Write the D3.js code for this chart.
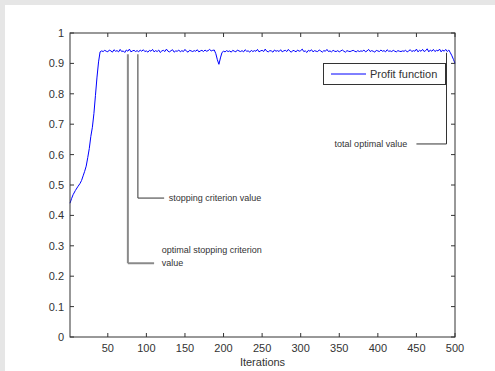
<!DOCTYPE html>
<html>
<head>
<meta charset="utf-8">
<script src="https://cdn.jsdelivr.net/npm/d3@7/dist/d3.min.js"></script>
<style>
  body { margin: 0; background: #e6e6e6; }
  svg { display: block; }
  text { font-family: "Liberation Sans", Arial, sans-serif; fill: #333; }
</style>
</head>
<body>
<svg id="viz" width="495" height="371"></svg>
<script>
// rise phase (iteration, value)
const riseIter = [1, 3, 5, 8, 11, 14, 16, 18, 20, 22, 24, 26, 28, 30, 32, 34, 36, 38, 40];
const riseValue = [0.44, 0.455, 0.468, 0.482, 0.494, 0.505, 0.515, 0.53, 0.545, 0.562, 0.59, 0.62, 0.66, 0.69, 0.735, 0.795, 0.855, 0.905, 0.938];

// plateau sampled every 2 iterations from 42 to 498
const plateauStart = 42;
const plateauStep = 2;
const plateauValue = [
  0.941,0.939,0.943,0.940,0.938,0.944,0.941,0.937,0.945,0.940,
  0.942,0.938,0.946,0.939,0.941,0.936,0.944,0.940,0.947,0.938,
  0.941,0.943,0.939,0.942,0.938,0.944,0.940,0.945,0.939,0.941,
  0.937,0.943,0.940,0.946,0.938,0.942,0.939,0.944,0.936,0.941,
  0.943,0.939,0.947,0.940,0.938,0.942,0.945,0.937,0.941,0.940,
  0.944,0.938,0.942,0.939,0.946,0.940,0.937,0.943,0.941,0.939,
  0.942,0.940,0.945,0.938,0.941,0.943,0.939,0.944,0.940,0.942,
  0.946,0.941,0.943,0.944,0.932,0.912,0.897,0.918,0.936,0.940,
  0.938,0.942,0.939,0.941,0.937,0.943,0.940,0.938,0.944,0.941,
  0.939,0.942,0.938,0.945,0.940,0.941,0.937,0.943,0.939,0.942,
  0.940,0.946,0.938,0.941,0.943,0.939,0.947,0.940,0.938,0.942,
  0.941,0.937,0.944,0.940,0.942,0.939,0.945,0.938,0.941,0.943,
  0.939,0.946,0.940,0.937,0.943,0.941,0.938,0.944,0.940,0.942,
  0.947,0.939,0.941,0.936,0.943,0.940,0.945,0.938,0.942,0.940,
  0.939,0.944,0.941,0.937,0.942,0.940,0.946,0.939,0.941,0.938,
  0.943,0.940,0.939,0.942,0.938,0.941,0.944,0.940,0.937,0.942,
  0.940,0.939,0.941,0.943,0.940,0.938,0.942,0.939,0.941,0.940,
  0.944,0.938,0.941,0.946,0.939,0.942,0.940,0.937,0.943,0.941,
  0.939,0.944,0.940,0.942,0.938,0.945,0.940,0.941,0.939,0.943,
  0.940,0.938,0.942,0.940,0.939,0.941,0.940,0.943,0.938,0.941,
  0.945,0.939,0.942,0.940,0.947,0.938,0.943,0.940,0.946,0.939,
  0.942,0.948,0.938,0.944,0.940,0.946,0.939,0.943,0.941,0.947,
  0.938,0.944,0.940,0.946,0.939,0.944,0.935,0.925,0.913
];
const tailIter = [500];
const tailValue = [0.90];

const xTicks = [50, 100, 150, 200, 250, 300, 350, 400, 450, 500];
const yTicks = [0, 0.1, 0.2, 0.3, 0.4, 0.5, 0.6, 0.7, 0.8, 0.9, 1];
const seriesName = "Profit function";
const xLabel = "Iterations";

// annotations: vertical at iter from top value to bottom value, then horizontal to endIter
const annotations = [
  { iter: 76, top: 0.93, bottom: 0.243, endIter: 110, lines: ["optimal stopping criterion", "value"], textIter: 120, color: "#8a8a8a", width: 2 },
  { iter: 89, top: 0.93, bottom: 0.457, endIter: 123, lines: ["stopping criterion value"], textIter: 129, color: "#333", width: 1 },
  { iter: 489, top: 0.935, bottom: 0.635, endIter: 450, lines: ["total optimal value"], textIter: 438, color: "#333", width: 1 }
];

const data = [];
riseIter.forEach((it, i) => data.push({ it, v: riseValue[i] }));
plateauValue.forEach((v, i) => data.push({ it: plateauStart + i * plateauStep, v }));
tailIter.forEach((it, i) => data.push({ it, v: tailValue[i] }));

const svg = d3.select("#viz");
svg.append("rect").attr("x", 5).attr("y", 5).attr("width", 490).attr("height", 366).attr("fill", "#fff");

const margin = { left: 70, right: 455, top: 33, bottom: 337 };
const x = d3.scaleLinear().domain([1, 500]).range([margin.left, margin.right]);
const y = d3.scaleLinear().domain([0, 1]).range([margin.bottom, margin.top]);

const axisColor = "#333";
const g = svg.append("g");

// inward ticks, all four sides
xTicks.forEach(t => {
  g.append("line").attr("x1", x(t)).attr("x2", x(t)).attr("y1", margin.bottom).attr("y2", margin.bottom - 4).attr("stroke", axisColor);
  g.append("line").attr("x1", x(t)).attr("x2", x(t)).attr("y1", margin.top).attr("y2", margin.top + 4).attr("stroke", axisColor);
  g.append("text").attr("x", x(t)).attr("y", margin.bottom + 15).attr("text-anchor", "middle")
    .attr("font-size", 11).text(t);
});
yTicks.forEach(t => {
  g.append("line").attr("x1", margin.left).attr("x2", margin.left + 4).attr("y1", y(t)).attr("y2", y(t)).attr("stroke", axisColor);
  g.append("line").attr("x1", margin.right).attr("x2", margin.right - 4).attr("y1", y(t)).attr("y2", y(t)).attr("stroke", axisColor);
  g.append("text").attr("x", margin.left - 6).attr("y", y(t) + 4).attr("text-anchor", "end")
    .attr("font-size", 11).text(t);
});

g.append("text").attr("x", (margin.left + margin.right) / 2).attr("y", 366).attr("text-anchor", "middle")
  .attr("font-size", 11).text(xLabel);

// the series
const line = d3.line().x(d => x(d.it)).y(d => y(d.v));
g.append("path").datum(data).attr("d", line).attr("fill", "none").attr("stroke", "#0000ff").attr("stroke-width", 1);

// annotations
annotations.forEach(a => {
  g.append("path")
    .attr("d", `M${x(a.iter)},${y(a.bottom)}V${y(a.top)}M${x(a.iter)},${y(a.bottom)}H${x(a.endIter)}`)
    .attr("fill", "none").attr("stroke", a.color).attr("stroke-width", a.width);
  const right = a.textIter < a.endIter;
  const n = a.lines.length;
  a.lines.forEach((s, i) => {
    g.append("text").attr("x", x(a.textIter))
      .attr("y", y(a.bottom) + 3 + (i - (n - 1)) * 13)
      .attr("text-anchor", right ? "end" : "start")
      .attr("font-size", 9).text(s);
  });
});

// legend
const lg = g.append("g");
lg.append("rect").attr("x", 323.5).attr("y", 63.5).attr("width", 122).attr("height", 21)
  .attr("fill", "#fff").attr("stroke", axisColor);
lg.append("line").attr("x1", 331).attr("x2", 366).attr("y1", 74).attr("y2", 74).attr("stroke", "#0000ff");
lg.append("text").attr("x", 370).attr("y", 78).attr("font-size", 11).text(seriesName);

// box
g.append("rect").attr("x", margin.left).attr("y", margin.top)
  .attr("width", margin.right - margin.left).attr("height", margin.bottom - margin.top)
  .attr("fill", "none").attr("stroke", axisColor);
</script>
</body>
</html>
